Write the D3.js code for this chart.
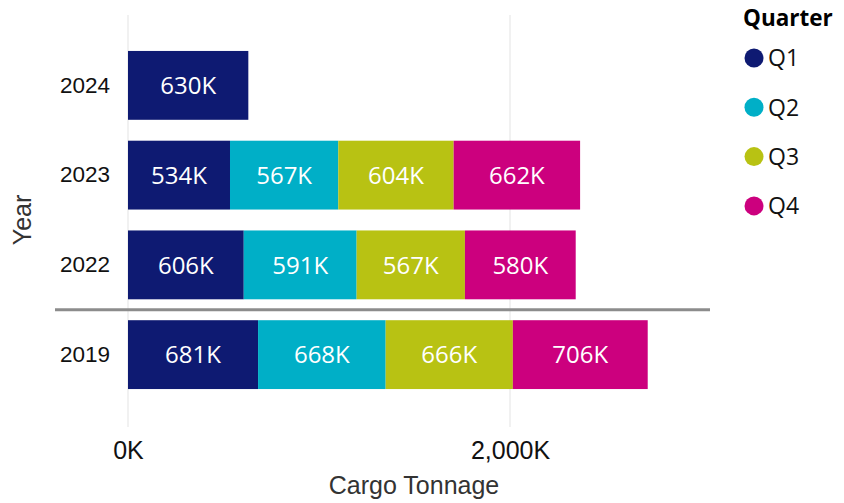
<!DOCTYPE html>
<html>
<head>
<meta charset="utf-8">
<script src="https://cdn.jsdelivr.net/npm/d3@7"></script>
<style>
  body { margin: 0; background: #fff; }
  svg { display: block; }
</style>
</head>
<body>
<svg id="chart" width="844" height="503"></svg>
<script>
// Data (values in thousand tonnes)
var years = ["2024", "2023", "2022", "2019"];
var quarters = ["Q1", "Q2", "Q3", "Q4"];
var q1 = [630, 534, 606, 681];
var q2 = [null, 567, 591, 668];
var q3 = [null, 604, 567, 666];
var q4 = [null, 662, 580, 706];
var xTicks = [0, 2000];
var colors = ["#0E1A72", "#00AFC7", "#B8C213", "#CC007E"];

var rows = years.map(function (y, i) {
  return { year: y, Q1: q1[i] || 0, Q2: q2[i] || 0, Q3: q3[i] || 0, Q4: q4[i] || 0 };
});

var svg = d3.select("#chart");

var xScale = d3.scaleLinear().domain([0, 2000]).range([128, 510]);
var yScale = d3.scaleBand()
  .domain(years)
  .range([40.5, 399.5])
  .paddingInner(0.233)
  .paddingOuter(0.1165);

var color = d3.scaleOrdinal().domain(quarters).range(colors);

// gridlines
svg.append("g").selectAll("line")
  .data(xTicks)
  .enter().append("line")
  .attr("x1", function (d) { return xScale(d); })
  .attr("x2", function (d) { return xScale(d); })
  .attr("y1", 15)
  .attr("y2", 427)
  .attr("stroke", "#ececec")
  .attr("stroke-width", 1.5);

// stacked bars
var stack = d3.stack().keys(quarters);
var series = stack(rows);

var layers = svg.append("g").selectAll("g")
  .data(series)
  .enter().append("g")
  .attr("fill", function (d) { return color(d.key); });

layers.selectAll("rect")
  .data(function (d) { return d.filter(function (s) { return s[1] - s[0] > 0; }); })
  .enter().append("rect")
  .attr("x", function (d) { return xScale(d[0]); })
  .attr("y", function (d) { return yScale(d.data.year); })
  .attr("width", function (d) { return xScale(d[1]) - xScale(d[0]); })
  .attr("height", yScale.bandwidth());

layers.selectAll("text")
  .data(function (d) { return d.filter(function (s) { return s[1] - s[0] > 0; }); })
  .enter().append("text")
  .attr("x", function (d) { return (xScale(d[0]) + xScale(d[1])) / 2; })
  .attr("y", function (d) { return yScale(d.data.year) + yScale.bandwidth() / 2; })
  .attr("dy", "0.36em")
  .attr("text-anchor", "middle")
  .attr("fill", "#fff")
  .style("font-family", "'Open Sans', sans-serif")
  .style("font-size", "24px")
  .text(function (d) { return (d[1] - d[0]) + "K"; });

// separator between recent years and 2019
var sepY = (yScale("2022") + yScale.bandwidth() + yScale("2019")) / 2;
svg.append("line")
  .attr("x1", 55).attr("x2", 710)
  .attr("y1", sepY).attr("y2", sepY)
  .attr("stroke", "#8c8c8c")
  .attr("stroke-width", 3);

// y axis labels
var yAxis = d3.axisLeft(yScale).tickSize(0).tickPadding(0);
var yg = svg.append("g")
  .attr("transform", "translate(110,0)")
  .call(yAxis);
yg.select(".domain").remove();
yg.selectAll("text")
  .attr("fill", "#111")
  .style("font-family", "'Liberation Sans', Arial, sans-serif")
  .style("font-size", "22.5px");

// x axis labels
var xAxis = d3.axisBottom(xScale)
  .tickValues(xTicks)
  .tickSize(0)
  .tickPadding(0)
  .tickFormat(function (d) { return d3.format(",")(d) + "K"; });
var xg = svg.append("g")
  .attr("transform", "translate(0,441)")
  .call(xAxis);
xg.select(".domain").remove();
xg.selectAll("text")
  .attr("fill", "#111")
  .attr("dy", "0.72em")
  .style("font-family", "'Liberation Sans', Arial, sans-serif")
  .style("font-size", "25px");

// axis titles
svg.append("text")
  .attr("x", 414).attr("y", 494)
  .attr("text-anchor", "middle")
  .attr("fill", "#333")
  .style("font-family", "'Liberation Sans', Arial, sans-serif")
  .style("font-size", "25px")
  .text("Cargo Tonnage");

svg.append("text")
  .attr("transform", "translate(31,220) rotate(-90)")
  .attr("text-anchor", "middle")
  .attr("fill", "#333")
  .style("font-family", "'Liberation Sans', Arial, sans-serif")
  .style("font-size", "25px")
  .text("Year");

// legend
svg.append("text")
  .attr("x", 743).attr("y", 26)
  .attr("fill", "#000")
  .style("font-family", "'Open Sans', sans-serif")
  .style("font-weight", "bold")
  .style("font-size", "22.5px")
  .text("Quarter");

var legend = svg.append("g").selectAll("g")
  .data(quarters)
  .enter().append("g")
  .attr("transform", function (d, i) { return "translate(754," + (58 + i * 49.3) + ")"; });

legend.append("circle")
  .attr("r", 9.5)
  .attr("fill", function (d) { return color(d); });

legend.append("text")
  .attr("x", 14)
  .attr("dy", "0.36em")
  .attr("fill", "#111")
  .style("font-family", "'Open Sans', sans-serif")
  .style("font-size", "23px")
  .text(function (d) { return d; });
</script>
</body>
</html>
